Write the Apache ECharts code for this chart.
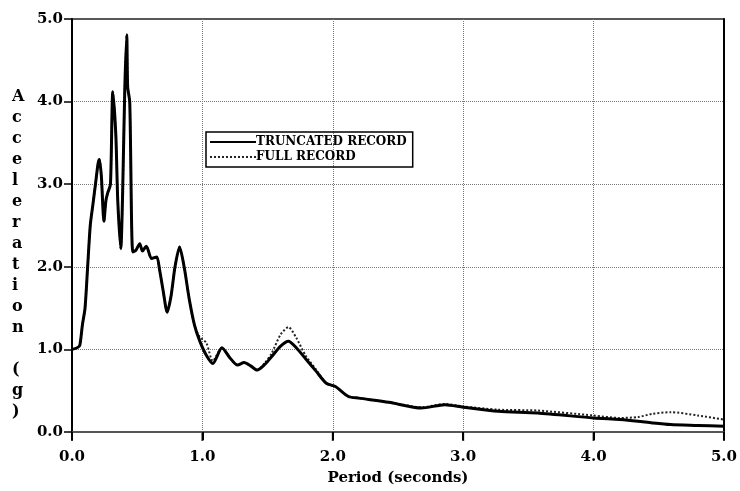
<!DOCTYPE html>
<html>
<head>
<meta charset="utf-8">
<script src="https://cdn.jsdelivr.net/npm/echarts@6/dist/echarts.min.js"></script>
<style>
  html, body { margin: 0; padding: 0; background: #fff; }
  #chart { width: 740px; height: 491px; }
</style>
</head>
<body>
<div id="chart"></div>
<script>
// period (s) and spectral acceleration (g)
var periods = [0, 0.04, 0.06, 0.08, 0.1, 0.12, 0.14, 0.16, 0.18, 0.2, 0.21, 0.225, 0.245, 0.26, 0.275, 0.295,
  0.313, 0.336, 0.351, 0.374, 0.389, 0.405, 0.42, 0.427, 0.443, 0.466, 0.49, 0.52, 0.54, 0.57, 0.61, 0.65,
  0.67, 0.7, 0.73, 0.76, 0.79, 0.825, 0.86, 0.9, 0.94, 0.98, 1.03, 1.08, 1.15, 1.21, 1.27, 1.32, 1.37,
  1.42, 1.48, 1.53, 1.6, 1.66, 1.72, 1.79, 1.87, 1.95, 2.02, 2.12, 2.2, 2.43, 2.68, 2.86, 3.0, 3.27,
  3.57, 4.0, 4.2, 4.34, 4.45, 4.59, 4.8, 5.0];
var truncated = [1.0, 1.02, 1.05, 1.3, 1.5, 2.0, 2.5, 2.75, 3.0, 3.25, 3.3, 3.1, 2.55, 2.8, 2.9, 3.0,
  4.12, 3.6, 2.8, 2.22, 2.94, 4.17, 4.81, 4.18, 3.99, 2.18, 2.2, 2.28, 2.19, 2.25, 2.1, 2.12,
  1.98, 1.7, 1.45, 1.65, 2.0, 2.24, 2.0, 1.6, 1.29, 1.1, 0.93, 0.83, 1.02, 0.9, 0.81, 0.84, 0.8,
  0.75, 0.82, 0.91, 1.04, 1.1, 1.02, 0.89, 0.74, 0.59, 0.55, 0.43, 0.41, 0.36, 0.29, 0.33, 0.3, 0.25,
  0.23, 0.17, 0.15, 0.13, 0.11, 0.09, 0.08, 0.07];
var fullRecord = [1.0, 1.02, 1.05, 1.3, 1.5, 2.0, 2.5, 2.75, 3.0, 3.25, 3.3, 3.1, 2.55, 2.8, 2.9, 3.0,
  4.12, 3.6, 2.8, 2.22, 2.94, 4.17, 4.81, 4.18, 3.99, 2.18, 2.2, 2.28, 2.19, 2.25, 2.1, 2.12,
  1.98, 1.7, 1.45, 1.65, 2.0, 2.24, 2.0, 1.6, 1.29, 1.15, 1.08, 0.86, 1.02, 0.9, 0.81, 0.84, 0.8,
  0.75, 0.84, 0.95, 1.18, 1.27, 1.14, 0.93, 0.76, 0.59, 0.55, 0.43, 0.41, 0.36, 0.3, 0.34, 0.31, 0.27,
  0.26, 0.2, 0.17, 0.18, 0.22, 0.24, 0.2, 0.15];
var seriesNames = ['TRUNCATED RECORD', 'FULL RECORD'];
var xTicks = ['0.0', '1.0', '2.0', '3.0', '4.0', '5.0'];
var yTitle = 'Acceleration (g)';

function pairs(vals) {
  var res = [];
  for (var i = 0; i < periods.length; i++) {
    res.push([periods[i], vals[i]]);
  }
  return res;
}

var serif = 'DejaVu Serif';
var chart = echarts.init(document.getElementById('chart'));
var option = {
  backgroundColor: '#fff',
  animation: false,
  grid: { left: 72, right: 13, top: 19, bottom: 57, show: true, borderColor: '#222', borderWidth: 1.5 },
  legend: {
    data: seriesNames,
    orient: 'vertical',
    left: 206, top: 132,
    itemWidth: 46, itemHeight: 10, itemGap: 3,
    padding: [4, 6, 4, 3],
    borderColor: '#000', borderWidth: 1.5,
    itemStyle: { opacity: 0 },
    textStyle: { fontFamily: serif, fontWeight: 'bold', fontSize: 12, color: '#000', padding: [0, 0, 0, -5] }
  },
  graphic: [{
    type: 'text',
    left: 12, top: 86,
    style: {
      text: yTitle.replace(/ /g, '\n').split('').join('\n').replace(/\n\n\n/g, '\n\n'),
      font: 'bold 16px "DejaVu Serif"',
      fill: '#000',
      lineHeight: 21,
      align: 'center'
    }
  }],
  xAxis: {
    type: 'value', min: 0, max: 5, interval: 1, position: 'bottom',
    name: 'Period (seconds)', nameLocation: 'middle', nameGap: 39,
    nameTextStyle: { fontFamily: serif, fontWeight: 'bold', fontSize: 15, color: '#000' },
    axisLine: { show: true, onZero: false, lineStyle: { color: '#555', width: 1.5 } },
    axisTick: { show: true, inside: false, length: 8, lineStyle: { color: '#000', width: 2 } },
    axisLabel: { margin: 18, fontFamily: serif, fontWeight: 'bold', fontSize: 15, color: '#000',
      formatter: function (v) { return xTicks[Math.round(v)]; } },
    splitLine: { show: true, showMinLine: false, showMaxLine: false, lineStyle: { color: '#777', type: 'dotted', width: 1 } }
  },
  yAxis: [{
    type: 'value', min: 0, max: 5, interval: 1,
    axisLine: { show: true, onZero: false, lineStyle: { color: '#000', width: 2 } },
    axisTick: { show: true, length: 8, lineStyle: { color: '#000', width: 1.5, type: 'solid' } },
    axisLabel: { margin: 9, fontFamily: serif, fontWeight: 'bold', fontSize: 15, color: '#000',
      formatter: function (v) { return v.toFixed(1); } },
    splitLine: { show: true, showMinLine: false, showMaxLine: false, lineStyle: { color: '#777', type: 'dotted', width: 1 } }
  }, {
    type: 'value', min: 0, max: 5, position: 'right',
    axisLine: { show: true, onZero: false, lineStyle: { color: '#000', width: 2 } },
    axisTick: { show: false }, axisLabel: { show: false }, splitLine: { show: false }
  }],
  series: [{
    name: seriesNames[1],
    type: 'line',
    data: pairs(fullRecord),
    symbol: 'none',
    smooth: 0.25,
    lineStyle: { color: '#222', width: 2, type: 'dotted' },
    itemStyle: { color: '#222' },
    z: 2
  }, {
    name: seriesNames[0],
    type: 'line',
    data: pairs(truncated),
    symbol: 'none',
    smooth: 0.25,
    lineStyle: { color: '#000', width: 3 },
    itemStyle: { color: '#000' },
    z: 3
  }, {
    // period-axis tick marks
    name: 'ticks',
    type: 'scatter',
    silent: true,
    clip: false,
    data: xTicks.map(function (s) { return [parseFloat(s), 0]; }),
    symbol: 'rect',
    symbolSize: [2, 8],
    symbolOffset: [0, 5],
    itemStyle: { color: '#000' },
    z: 4
  }]
};
chart.setOption(option);
</script>
</body>
</html>
